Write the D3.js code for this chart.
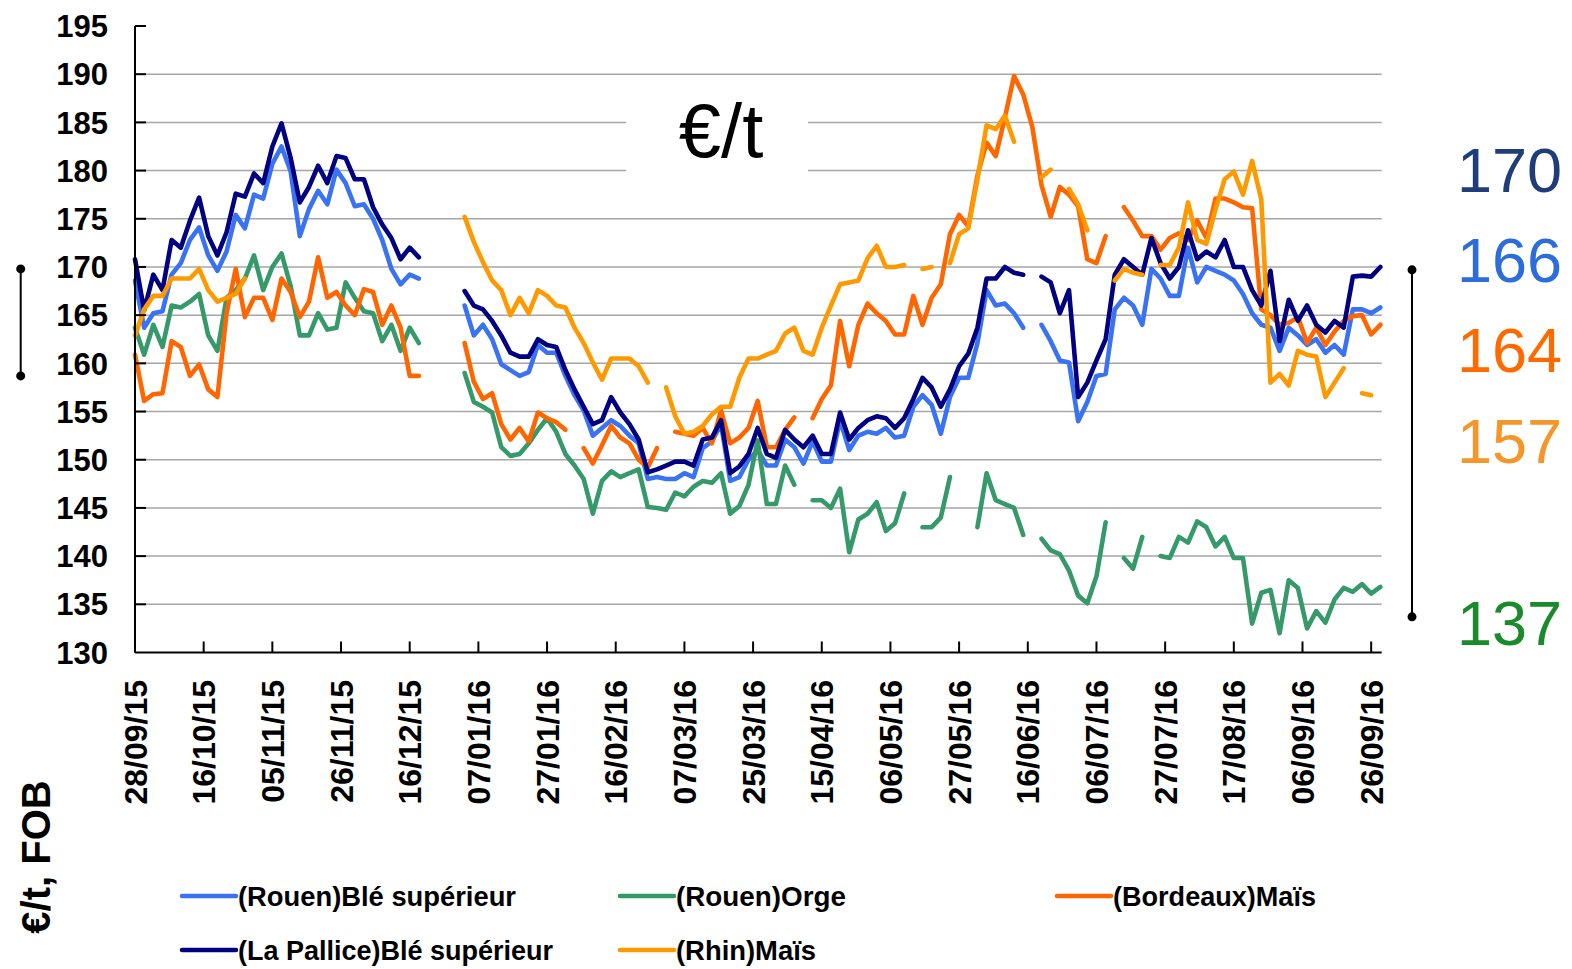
<!DOCTYPE html>
<html><head><meta charset="utf-8">
<script src="https://cdn.jsdelivr.net/npm/d3@7"></script>
<style>
body{margin:0;background:#fff}
svg{display:block}
text{font-family:"Liberation Sans",Arial,Helvetica,sans-serif}
</style>
</head><body>
<svg id="chart" width="1572" height="969"></svg>
<script>
// one value every STEP trading-day slots, slot index 0 = 28/09/15
const STEP = 2;
const xTickLabels = ["28/09/15","16/10/15","05/11/15","26/11/15","16/12/15","07/01/16","27/01/16","16/02/16","07/03/16","25/03/16","15/04/16","06/05/16","27/05/16","16/06/16","06/07/16","27/07/16","17/08/16","06/09/16","26/09/16"];
const xTickEvery = 15;
const yTicks = [130,135,140,145,150,155,160,165,170,175,180,185,190,195];

const rouenBle = [
168.6,163.7,165.2,165.4,169.2,170.4,172.8,174.1,171.2,169.6,
171.6,175.4,174,177.5,177.1,180.7,182.5,179.9,173.2,176,
177.9,176.5,180.1,178.7,176.3,176.5,175,172.8,169.8,168.2,
169.2,168.8,null,null,null,null,166,162.9,164,162.5,
159.9,159.3,158.7,159.1,161.9,161.1,161.1,158.7,156.7,155.1,
152.5,153.3,154.1,153.5,152.5,151.7,148,148.2,148,148,
148.6,148.2,151.2,151.9,153.7,147.8,148.2,150,151,149.4,
149.4,152.1,151.3,149.6,151.9,149.8,149.8,154.1,151,152.5,
152.9,152.7,153.3,152.3,152.5,155.5,156.7,155.7,152.7,156.5,
158.5,158.5,162.1,167.6,166,166.2,165.2,163.7,null,164,
162.3,160.3,160.1,154,156,158.7,158.9,165.6,166.8,166,
164,169.8,168.8,167,167,172,168.4,170,169.6,169.2,
168.6,167.2,165.2,164,163.7,161.3,163.7,162.9,161.9,162.5,
161.1,161.9,160.9,165.6,165.6,165.2,165.8];

const rouenOrge = [
163.7,160.9,164,161.7,166,165.8,166.4,167.2,162.9,161.3,
166.8,167.6,168.8,171.2,167.6,170,171.4,168,162.9,162.9,
165.2,163.5,163.7,168.4,166.8,165.4,165.2,162.3,164,161.3,
163.7,162.1,null,null,null,null,159,156,155.5,154.9,
151.3,150.4,150.6,151.7,153.1,154.3,152.9,150.6,149.4,148,
144.4,147.8,148.8,148.2,148.6,149,145.1,145,144.8,146.6,
146.2,147.2,147.8,147.6,148.6,144.4,145.2,147.4,152,145.4,
145.4,149.4,147.4,null,145.8,145.8,145,147,140.4,143.8,
144.4,145.6,142.6,143.4,146.5,null,143,143,144,148.2,
null,null,143,148.6,145.8,145.4,145,142.2,null,141.8,
140.6,140.2,138.5,135.9,135.1,137.9,143.5,null,139.8,138.7,
142,null,140,139.8,142,141.4,143.6,143,141,142,
139.8,139.8,133,136.2,136.5,132,137.5,136.7,132.5,134.3,
133.1,135.5,136.7,136.3,137.1,136.1,136.8];

const bordeauxMais = [
160.9,156.1,156.8,156.9,162.3,161.7,158.7,159.9,157.3,156.5,
165.2,169.8,164.8,166.8,166.8,164.5,168.8,167.4,164.8,166.4,
171,166.8,167.4,166,165,167.7,167.4,164,166,163.7,
158.7,158.7,null,null,null,null,162.1,158.1,156.3,156.9,
153.7,152.1,153.3,151.9,154.9,154.3,153.9,153.1,null,151.2,
149.6,151.5,153.5,152.3,151.7,150,149.2,151.2,null,152.9,
152.7,152.5,153.3,151.7,155.1,151.7,152.3,153.3,156.1,151.3,
151.3,153.1,154.4,null,154.3,156.3,157.7,164.4,159.7,164,
166.2,165.2,164.4,163,163,167,164,166.8,168.2,173.4,
175.4,174.2,179.5,182.9,181.5,185.5,189.8,187.9,184.5,178.5,
175.2,178.3,177.5,176.3,170.8,170.4,173.2,null,176.2,174.8,
173.2,173.2,171.8,173,173.5,172.8,174.8,173,177.1,177.1,
176.7,176.2,176.1,165.6,165,164,164.2,164.8,162.1,163.7,
161.9,163.3,164.4,164.9,165,163,164];

const laPalliceBle = [
170.8,165.5,169.2,167.6,172.8,172,174.8,177.2,173.2,171.2,
173.6,177.6,177.3,179.7,178.7,182.5,184.9,181.3,176.7,178.3,
180.5,178.7,181.5,181.3,179.1,179.1,176.2,174.4,173,170.8,
172,171,null,null,null,null,167.5,166,165.6,164.4,
162.9,161.1,160.7,160.7,162.5,161.9,161.7,159.3,157.3,155.5,
153.7,154.1,156.5,154.9,153.7,152.1,148.7,149,149.4,149.8,
149.8,149.4,152.1,152.3,154.1,148.6,149.3,150.6,153.3,150.6,
150.2,153.1,152.1,151.3,152.5,150.6,150.6,154.9,152.1,153.3,
154.1,154.5,154.3,153.3,154.3,156.3,158.5,157.5,155.5,157.3,
159.7,161,163.7,168.8,168.8,170,169.4,169.2,null,169,
168.4,165.2,167.6,156.5,158,160.3,162.5,169.2,170.8,170,
169.2,173,170.4,168.8,170,173.8,170.8,171.6,171,172.8,
170,170,167.6,166,169.6,162.3,166.6,164.4,166,164,
163.2,164.4,163.7,169,169.1,169,170];

const rhinMais = [
162.9,165.6,167,167,168.8,168.8,168.8,169.8,167.6,166.4,
166.8,167.2,168.8,null,null,null,null,null,null,null,
null,null,null,null,null,null,null,null,null,null,
null,null,null,null,null,null,175.2,172.6,170.5,168.6,
167.6,165,166.8,165.2,167.6,167,166,165.8,163.7,162.1,
160.1,158.3,160.5,160.5,160.5,159.7,158,null,157.5,154.5,
152.7,152.9,153.5,154.7,155.5,155.5,158.5,160.5,160.5,160.9,
161.3,163.1,163.7,161.3,160.9,163.7,166,168.2,168.4,168.6,
170.9,172.2,170,170,170.2,null,169.8,170,null,170.4,
173.4,174,179.1,184.7,184.3,185.7,183,null,null,179.3,
180.1,null,178.1,176.5,173.8,null,null,168.6,169.8,169.4,
169.2,null,170.2,170.2,172,176.7,172.8,172.4,176,179.1,
179.9,177.5,181,177,158,158.9,157.7,161.3,160.9,160.7,
156.5,158,159.5,null,156.9,156.7,null];

const seriesNames = ["(Rouen)Blé supérieur","(Rouen)Orge","(Bordeaux)Maïs","(La Pallice)Blé supérieur","(Rhin)Maïs"];
const seriesData = [rouenBle, rouenOrge, bordeauxMais, laPalliceBle, rhinMais];
const seriesColors = ["#3A72F4","#35996A","#FF6600","#000080","#FF9900"];

const lastValues = ["170","166","164","157","137"];
const lastColors = ["#1F3C7B","#2C6DDB","#FF6A00","#F5962A","#1A8A2A"];

// ---------------------------------------------------------------
const svg = d3.select("#chart");
const x = d3.scaleLinear().domain([0, 272.3]).range([135, 1381.7]);
const y = d3.scaleLinear().domain([130, 195]).range([652.5, 26]);

// gridlines
svg.append("g").selectAll("line").data(yTicks.filter(v => v > 130 && v < 195)).join("line")
  .attr("x1", x(0)).attr("x2", x.range()[1])
  .attr("y1", d => y(d)).attr("y2", d => y(d))
  .attr("stroke", "#A6A6A6").attr("stroke-width", 1.5);

// white label box
svg.append("rect").attr("x", 626).attr("y", 77).attr("width", 182).attr("height", 128).attr("fill", "#fff");
svg.append("text").attr("x", 721).attr("y", 157).attr("text-anchor", "middle")
  .attr("font-size", 76).attr("fill", "#000").text("€/t");

// series lines
const line = d3.line().defined(d => d != null).x((d, k) => x(k * STEP)).y(d => y(d));
svg.append("g").selectAll("path").data(seriesData).join("path")
  .attr("d", d => line(d)).attr("fill", "none")
  .attr("stroke", (d, i) => seriesColors[i]).attr("stroke-width", 4.6)
  .attr("stroke-linejoin", "round").attr("stroke-linecap", "round");

// axes
const axis = svg.append("g").attr("stroke", "#000").attr("stroke-width", 2);
axis.append("line").attr("x1", x(0)).attr("x2", x(0)).attr("y1", y(195)).attr("y2", y(130));
axis.append("line").attr("x1", x(0)).attr("x2", x.range()[1]).attr("y1", y(130)).attr("y2", y(130));
axis.selectAll(".yt").data(yTicks.filter(v => v > 130)).join("line").attr("class", "yt")
  .attr("x1", x(0)).attr("x2", x(0) + 11).attr("y1", d => y(d)).attr("y2", d => y(d));
axis.selectAll(".xt").data(xTickLabels).join("line").attr("class", "xt")
  .attr("x1", (d, i) => x(i * xTickEvery)).attr("x2", (d, i) => x(i * xTickEvery))
  .attr("y1", y(130)).attr("y2", y(130) - 11);

// y tick labels
svg.append("g").selectAll("text").data(yTicks).join("text")
  .attr("x", 108).attr("y", d => y(d)).attr("dy", "0.36em")
  .attr("text-anchor", "end").attr("font-size", 31).attr("font-weight", "bold").text(d => d);

// x tick labels
svg.append("g").selectAll("text").data(xTickLabels).join("text")
  .attr("transform", (d, i) => `translate(${x(i * xTickEvery)},680) rotate(-90)`)
  .attr("dy", "0.36em").attr("text-anchor", "end")
  .attr("font-size", 32).attr("font-weight", "bold").text(d => d);

// y axis title
svg.append("text").attr("transform", "translate(36,857) rotate(-90)")
  .attr("dy", "0.36em").attr("text-anchor", "middle")
  .attr("font-size", 40).attr("font-weight", "bold").text("€/t, FOB");

// legend
const legendPos = [[182,896,278],[620,896,170],[1057,896,203],[182,950,315],[620,950,140]];
const lg = svg.append("g").selectAll("g").data(seriesNames).join("g")
  .attr("transform", (d, i) => `translate(${legendPos[i][0]},${legendPos[i][1]})`);
lg.append("line").attr("x1", 0).attr("x2", 54).attr("y1", 0).attr("y2", 0)
  .attr("stroke", (d, i) => seriesColors[i]).attr("stroke-width", 4.5).attr("stroke-linecap", "round");
lg.append("text").attr("x", 56).attr("dy", "0.36em").attr("font-size", 27).attr("font-weight", "bold")
  .attr("textLength", (d, i) => legendPos[i][2]).attr("lengthAdjust", "spacingAndGlyphs").text(d => d);

// last-value labels
const lastY = [192, 282, 372, 463, 645];
svg.append("g").selectAll("text").data(lastValues).join("text")
  .attr("x", 1562).attr("y", (d, i) => lastY[i]).attr("text-anchor", "end")
  .attr("font-size", 63).attr("fill", (d, i) => lastColors[i]).text(d => d);

// range brackets
const brackets = [[20.7, 169.8, 158.7], [1412, 169.7, 133.7]];
const bg = svg.append("g").selectAll("g").data(brackets).join("g");
bg.append("line").attr("x1", d => d[0]).attr("x2", d => d[0])
  .attr("y1", d => y(d[1])).attr("y2", d => y(d[2])).attr("stroke", "#000").attr("stroke-width", 2);
bg.selectAll("circle").data(d => [[d[0], d[1]], [d[0], d[2]]]).join("circle")
  .attr("cx", d => d[0]).attr("cy", d => y(d[1])).attr("r", 4.5).attr("fill", "#000");
</script>
</body></html>
